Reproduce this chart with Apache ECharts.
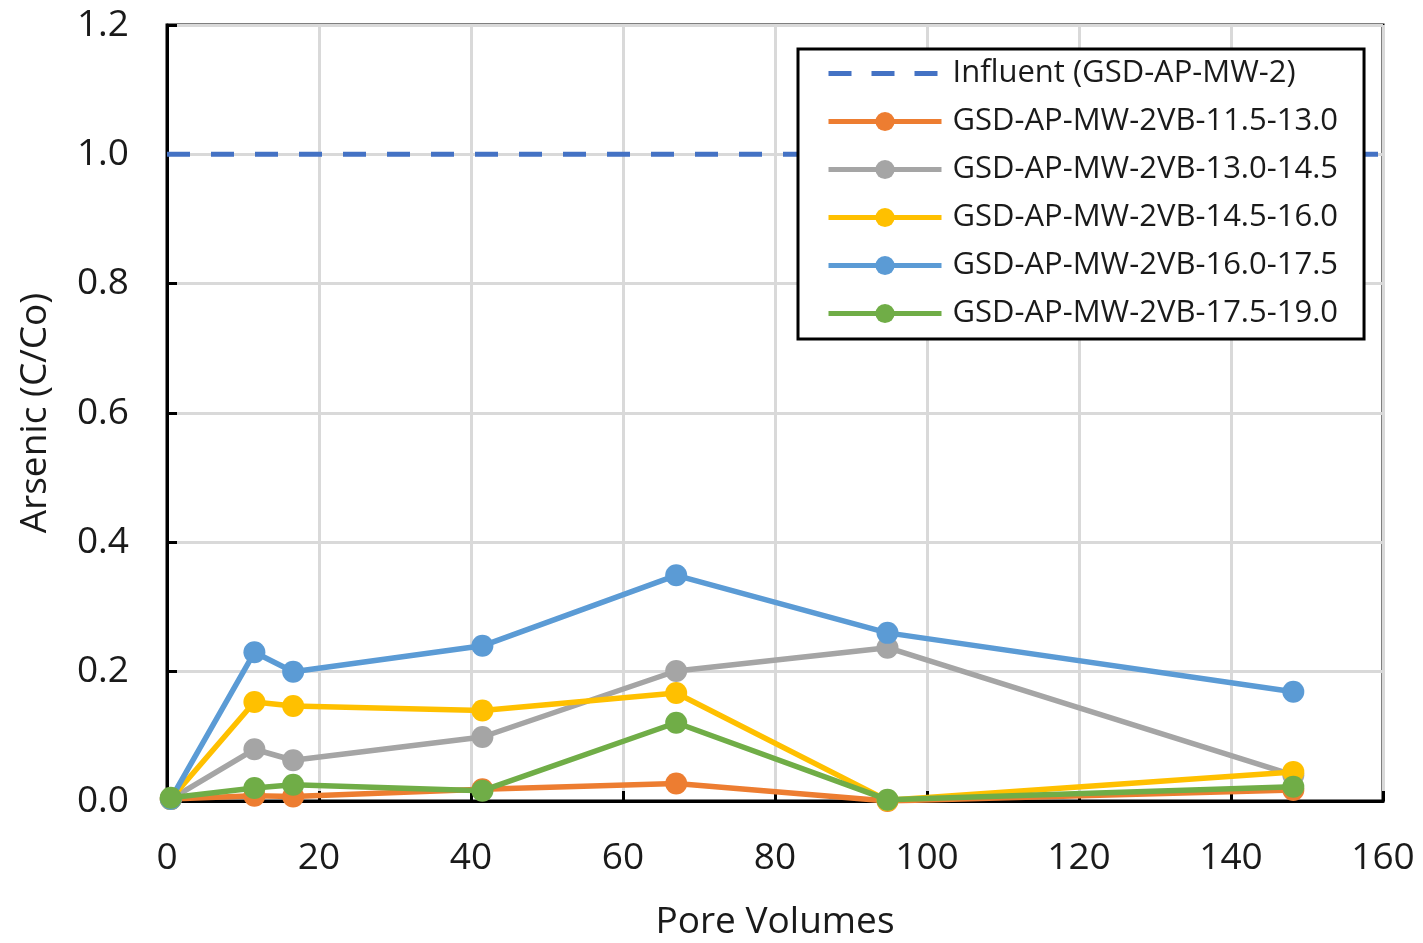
<!DOCTYPE html>
<html><head><meta charset="utf-8">
<script src="https://cdn.jsdelivr.net/npm/echarts@6/dist/echarts.min.js"></script>
<style>html,body{margin:0;padding:0;background:#fff}#c{width:1423px;height:943px}</style>
</head><body><div id="c"></div>
<script>
const poreVolumes = [0.5, 11.5, 16.6, 41.5, 67.0, 94.8, 148.2];
const influentX = [0, 160];
const influentY = [1.0, 1.0];
const s1 = [0.003, 0.008, 0.007, 0.018, 0.027, 0.000, 0.017];
const s2 = [0.003, 0.080, 0.063, 0.099, 0.201, 0.237, 0.040];
const s3 = [0.003, 0.153, 0.147, 0.140, 0.167, 0.001, 0.045];
const s4 = [0.003, 0.230, 0.200, 0.240, 0.349, 0.260, 0.169];
const s5 = [0.005, 0.020, 0.025, 0.016, 0.121, 0.002, 0.022];
const names = ['Influent (GSD-AP-MW-2)','GSD-AP-MW-2VB-11.5-13.0','GSD-AP-MW-2VB-13.0-14.5','GSD-AP-MW-2VB-14.5-16.0','GSD-AP-MW-2VB-16.0-17.5','GSD-AP-MW-2VB-17.5-19.0'];
const colors = ['#4472C4','#ED7D31','#A5A5A5','#FFC000','#5B9BD5','#70AD47'];
const font = '"Open Sans", "Noto Sans", sans-serif';
const txt = '#1a1a1a';
const pair = (xs, ys) => xs.map((x, i) => [x, ys[i]]);
const mk = (i, ys) => ({
  name: names[i], type: 'line', data: pair(poreVolumes, ys),
  symbol: 'circle', symbolSize: 22, showSymbol: true,
  lineStyle: {color: colors[i], width: 5.5},
  itemStyle: {color: colors[i]}, color: colors[i], z: 2 + i
});
const legendItems = [{name: names[0], itemStyle: {opacity: 0}, lineStyle: {width: 5, type: [23, 20]}}]
  .concat(names.slice(1).map(n => ({name: n, lineStyle: {width: 5}})));
const chart = echarts.init(document.getElementById('c'), null, {renderer: 'canvas'});
chart.setOption({
  animation: false,
  textStyle: {fontFamily: font},
  grid: {left: 167, right: 40, top: 25, bottom: 142, show: true, borderColor: '#000', borderWidth: 3,
         containLabel: false, outerBoundsMode: 'none'},
  xAxis: {
    type: 'value', min: 0, max: 160, interval: 20,
    name: 'Pore Volumes', nameLocation: 'middle', nameGap: 103,
    nameTextStyle: {fontSize: 37, color: txt, fontFamily: font},
    axisLine: {show: true, lineStyle: {color: '#000', width: 3}},
    axisTick: {show: true, inside: true, length: 10, lineStyle: {color: '#000', width: 3}},
    axisLabel: {fontSize: 37, color: txt, margin: 39, fontFamily: font},
    splitLine: {show: true, lineStyle: {color: '#D9D9D9', width: 3}}
  },
  yAxis: {
    type: 'value', min: 0, max: 1.2, interval: 0.2,
    name: 'Arsenic (C/Co)', nameLocation: 'middle', nameGap: 113,
    nameTextStyle: {fontSize: 37, color: txt, fontFamily: font},
    axisLine: {show: true, lineStyle: {color: '#000', width: 3}},
    axisTick: {show: true, inside: true, length: 10, lineStyle: {color: '#000', width: 3}},
    axisLabel: {fontSize: 37, color: txt, margin: 38, fontFamily: font, formatter: v => v.toFixed(1)},
    splitLine: {show: true, lineStyle: {color: '#D9D9D9', width: 3}}
  },
  legend: {
    orient: 'vertical', left: 798, top: 49,
    padding: [9, 26, 10, 28], itemGap: 17, itemWidth: 113, itemHeight: 24,
    backgroundColor: '#fff', borderColor: '#000', borderWidth: 3,
    textStyle: {fontSize: 31, color: txt, fontFamily: font, padding: [0, 0, 0, 6]},
    data: legendItems
  },
  series: [
    {name: names[0], type: 'line', data: pair(influentX, influentY), showSymbol: false, symbol: 'none',
     lineStyle: {color: colors[0], width: 5, type: [23, 21]}, itemStyle: {color: colors[0]}, color: colors[0], z: 1},
    mk(1, s1), mk(2, s2), mk(3, s3), mk(4, s4), mk(5, s5)
  ]
});
</script></body></html>
